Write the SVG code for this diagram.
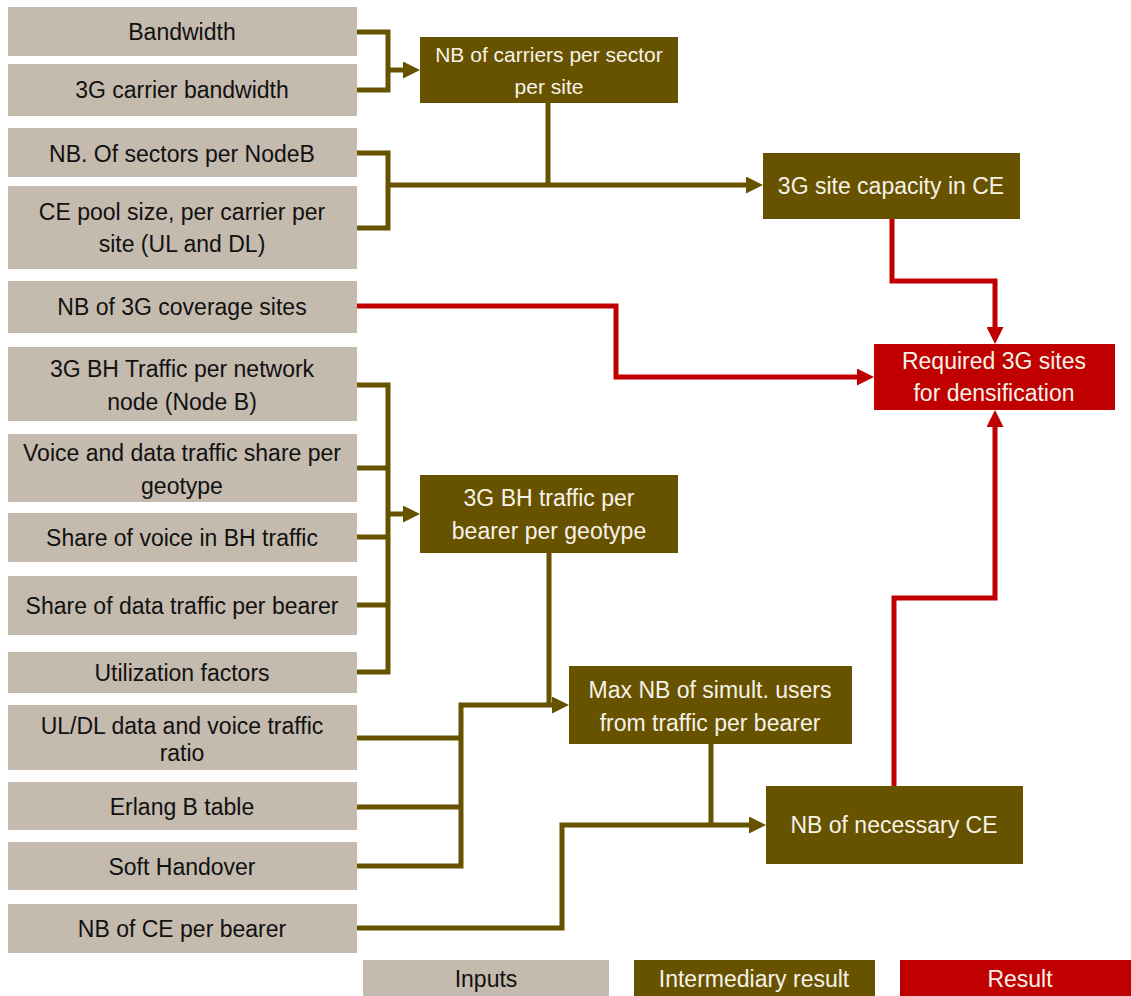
<svg xmlns="http://www.w3.org/2000/svg" width="1131" height="996" viewBox="0 0 1131 996">
<style>
.in rect{fill:#C4BAAE}
.im rect{fill:#675200}
.rs rect{fill:#C00000}
text{font-family:"Liberation Sans",Arial,sans-serif;font-size:23px;text-anchor:middle}
.in text{fill:#111}
.im text,.rs text{fill:#F6F2E8}
.c{fill:none;stroke:#675200;stroke-width:5}
.r{fill:none;stroke:#C00000;stroke-width:5}
</style>
<defs>
<marker id="ao" markerUnits="userSpaceOnUse" markerWidth="17" markerHeight="17" refX="3" refY="8.5" orient="auto"><path d="M0,0L17,8.5L0,17z" fill="#675200"/></marker>
<marker id="ar" markerUnits="userSpaceOnUse" markerWidth="17" markerHeight="17" refX="3" refY="8.5" orient="auto"><path d="M0,0L17,8.5L0,17z" fill="#C00000"/></marker>
</defs>
<rect width="1131" height="996" fill="#fff"/>
<g id="connectors">
<path class="c" d="M357,32H388V90H357"/>
<path class="c" d="M388,70H406" marker-end="url(#ao)"/>
<path class="c" d="M357,153H388V228H357"/>
<path class="c" d="M388,185H749" marker-end="url(#ao)"/>
<path class="c" d="M548,103V185"/>
<path class="r" d="M357,306H616V377H860" marker-end="url(#ar)"/>
<path class="r" d="M892,219V281H995V330" marker-end="url(#ar)"/>
<path class="r" d="M894,786V598H995V424" marker-end="url(#ar)"/>
<path class="c" d="M357,385H388V672H357"/>
<path class="c" d="M357,468H388M357,537H388M357,605H388"/>
<path class="c" d="M388,514H406" marker-end="url(#ao)"/>
<path class="c" d="M549,553V705"/>
<path class="c" d="M357,738H461M357,807H461M357,866H461V705H555" marker-end="url(#ao)"/>
<path class="c" d="M711,744V825"/>
<path class="c" d="M357,928H562V825H752" marker-end="url(#ao)"/>
</g>
<g id="n-bandwidth" class="in"><rect x="8" y="7" width="349" height="49"/><text x="182" y="40">Bandwidth</text></g>
<g id="n-carrier-bw" class="in"><rect x="8" y="64" width="349" height="52"/><text x="182" y="98">3G carrier bandwidth</text></g>
<g id="n-sectors" class="in"><rect x="8" y="128" width="349" height="49"/><text x="182" y="162">NB. Of sectors per NodeB</text></g>
<g id="n-cepool" class="in"><rect x="8" y="186" width="349" height="83"/><text x="182" y="220">CE pool size, per carrier per</text><text x="182" y="252">site (UL and DL)</text></g>
<g id="n-coverage" class="in"><rect x="8" y="281" width="349" height="52"/><text x="182" y="315">NB of 3G coverage sites</text></g>
<g id="n-bhtraffic" class="in"><rect x="8" y="347" width="349" height="74"/><text x="182" y="377">3G BH Traffic per network</text><text x="182" y="410">node (Node B)</text></g>
<g id="n-voicedata" class="in"><rect x="8" y="434" width="349" height="68"/><text x="182" y="461">Voice and data traffic share per</text><text x="182" y="494">geotype</text></g>
<g id="n-sharevoice" class="in"><rect x="8" y="513" width="349" height="49"/><text x="182" y="546">Share of voice in BH traffic</text></g>
<g id="n-sharedata" class="in"><rect x="8" y="576" width="349" height="59"/><text x="182" y="614">Share of data traffic per bearer</text></g>
<g id="n-util" class="in"><rect x="8" y="652" width="349" height="41"/><text x="182" y="681">Utilization factors</text></g>
<g id="n-uldl" class="in"><rect x="8" y="705" width="349" height="65"/><text x="182" y="734">UL/DL data and voice traffic</text><text x="182" y="761">ratio</text></g>
<g id="n-erlang" class="in"><rect x="8" y="782" width="349" height="48"/><text x="182" y="815">Erlang B table</text></g>
<g id="n-softho" class="in"><rect x="8" y="842" width="349" height="48"/><text x="182" y="875">Soft Handover</text></g>
<g id="n-cebearer" class="in"><rect x="8" y="904" width="349" height="49"/><text x="182" y="937">NB of CE per bearer</text></g>
<g id="n-carriers" class="im"><rect x="420" y="37" width="258" height="66"/><text x="549" y="62" style="font-size:21px">NB of carriers per sector</text><text x="549" y="94" style="font-size:21px">per site</text></g>
<g id="n-sitecap" class="im"><rect x="763" y="153" width="257" height="66"/><text x="891" y="194">3G site capacity in CE</text></g>
<g id="n-bhbearer" class="im"><rect x="420" y="475" width="258" height="78"/><text x="549" y="506">3G BH traffic per</text><text x="549" y="539">bearer per geotype</text></g>
<g id="n-maxusers" class="im"><rect x="569" y="666" width="283" height="78"/><text x="710" y="698">Max NB of simult. users</text><text x="710" y="731">from traffic per bearer</text></g>
<g id="n-necessaryce" class="im"><rect x="766" y="786" width="257" height="78"/><text x="894" y="833">NB of necessary CE</text></g>
<g id="n-required" class="rs"><rect x="874" y="344" width="241" height="66"/><text x="994" y="369">Required 3G sites</text><text x="994" y="401">for densification</text></g>
<g id="legend-inputs" class="in"><rect x="363" y="960" width="246" height="36"/><text x="486" y="987">Inputs</text></g>
<g id="legend-intermediary" class="im"><rect x="634" y="960" width="241" height="36"/><text x="754" y="987">Intermediary result</text></g>
<g id="legend-result" class="rs"><rect x="900" y="960" width="231" height="36"/><text x="1020" y="987">Result</text></g>
</svg>
